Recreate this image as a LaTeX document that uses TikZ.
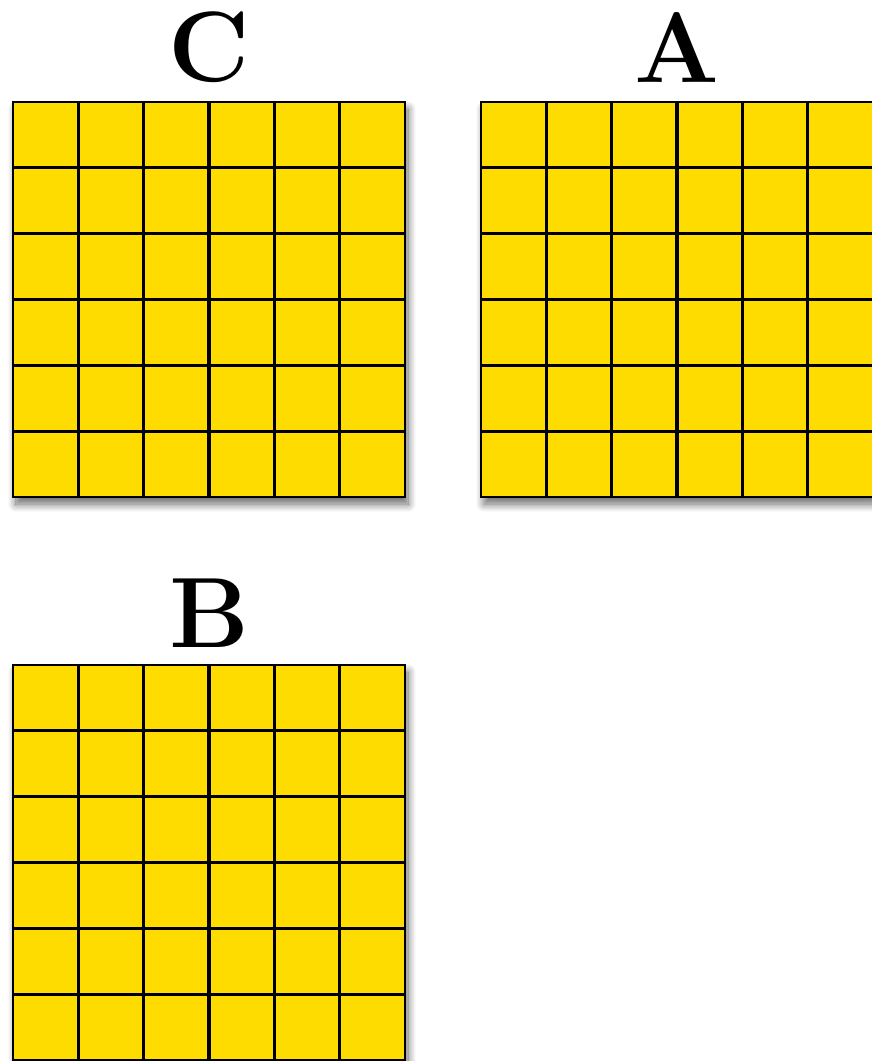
\documentclass[tikz,border=0pt]{standalone}
\usepackage{fix-cm}
\usepackage{tikz}
\usetikzlibrary{positioning,calc,shadows.blur}
\definecolor{cellfill}{HTML}{FFDC00}
\definecolor{ink}{HTML}{000000}
\tikzset{
  board/.style={rectangle, draw=ink, line width=1.4pt, fill=cellfill,
                minimum width=196pt, minimum height=197.5pt, inner sep=0pt, outer sep=0pt,
                blur shadow={shadow xshift=1.5pt, shadow yshift=-3.5pt, shadow blur radius=4pt,
                             shadow blur steps=12, shadow opacity=60}},
  gridline/.style={draw=ink, line width=1.6pt},
  tag/.style={font=\fontsize{50}{60}\selectfont\bfseries, inner sep=0pt, text=ink}
}

\begin{document}
\begin{tikzpicture}[x=0.5pt, y=-0.5pt]
  \useasboundingbox (0,0) rectangle (872,1061);
  % the three boards
  \node[board, anchor=north west] (gC) at (13,102) {};
  \node[board, anchor=north west] (gA) at (481,102) {};
  \node[board, anchor=north west] (gB) at (13,665) {};
  \foreach \g in {gC,gA,gB}{
    \foreach \i in {1,...,5}{
      \draw[gridline] ($(\g.north west)!\i/6!(\g.north east)$) -- ($(\g.south west)!\i/6!(\g.south east)$);
      \draw[gridline] ($(\g.north west)!\i/6!(\g.south west)$) -- ($(\g.north east)!\i/6!(\g.south east)$);
    }
  }
  % labels
  \node[tag, above=9.5pt of gC] (tC) {C};
  \node[tag, above=9.5pt of gA] (tA) {A};
  \node[tag, above=8.5pt of gB] (tB) {B};
\end{tikzpicture}
\end{document}
